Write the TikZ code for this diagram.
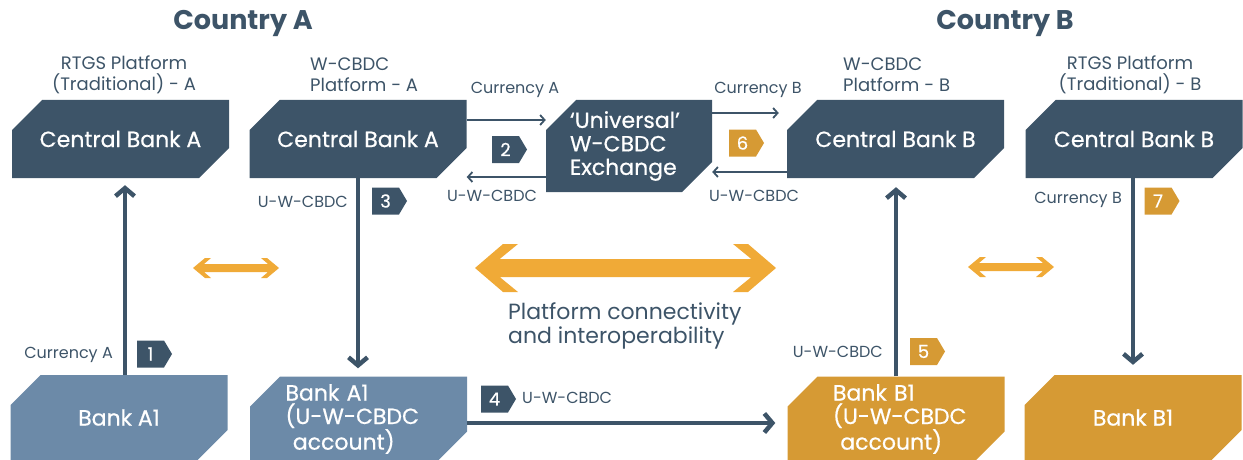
\documentclass[tikz,border=0pt]{standalone}
\usepackage{fontspec}
\setmainfont{Poppins}
\newfontfamily\medfont[FakeBold=0.6]{Poppins}
\usetikzlibrary{arrows.meta,calc}
\definecolor{dk}{RGB}{61,84,104}
\definecolor{lb}{RGB}{108,138,168}
\definecolor{ob}{RGB}{214,154,52}
\definecolor{oa}{RGB}{240,170,55}
\begin{document}
\begin{tikzpicture}[x=1pt,y=-1pt,
  cbox/.style={inner sep=0pt, minimum width=217pt, minimum height=78pt, text=white,
    font=\medfont\fontsize{22}{23.5}\selectfont, align=center,
    path picture={\fill[#1] ([xshift=30pt]path picture bounding box.north west) -- (path picture bounding box.north east) -- ([yshift=30pt]path picture bounding box.south east) -- ([xshift=-30pt]path picture bounding box.south east) -- (path picture bounding box.south west) -- ([yshift=-30pt]path picture bounding box.north west) -- cycle;}},
  badge/.style={inner sep=0pt, minimum width=35pt, minimum height=27pt, text=white,
    font=\medfont\fontsize{18}{18}\selectfont,
    path picture={\fill[#1] (path picture bounding box.north west) -- ([xshift=-8pt]path picture bounding box.north east) -- (path picture bounding box.east) -- ([xshift=-8pt]path picture bounding box.south east) -- (path picture bounding box.south west) -- cycle;}},
  lbl/.style={text=dk, font=\fontsize{16}{21}\selectfont, inner sep=0pt},
  plbl/.style={text=dk, font=\fontsize{18}{21}\selectfont, inner sep=0pt},
  title/.style={text=dk, font=\fontsize{27}{30}\selectfont\bfseries, inner sep=0pt},
  big/.style={draw=dk, line width=4.5pt, -{Straight Barb[length=8pt,width=19pt]}},
  thin/.style={draw=dk, line width=1.8pt, -{Straight Barb[length=4.5pt,width=10pt]}}
]
\useasboundingbox (0,0) rectangle (1243,460);

% titles
\node[title] (ta) at (243,23) {Country A};
\node[title] (tb) at (1005,23) {Country B};

% platform labels
\node[plbl, align=center] (pra) at (124,74.5) {RTGS Platform\\(Traditional) - A};
\node[plbl, align=left, anchor=west] (pwa) at (310,74.5) {W-CBDC\\Platform - A};
\node[plbl, align=left, anchor=west] (pwb) at (843,74.5) {W-CBDC\\Platform - B};
\node[plbl, align=center] (prb) at (1130,74.5) {RTGS Platform\\(Traditional) - B};

% boxes
\node[cbox=dk] (cbra) at (120.5,139) {Central Bank A};
\node[cbox=dk] (cbwa) at (358,139) {Central Bank A};
\node[cbox=dk, minimum width=166pt, minimum height=92pt, text width=118pt, align=left] (ex) at (629,146) {‘Universal’\\W-CBDC\\Exchange};
\node[cbox=dk] (cbwb) at (895.5,139) {Central Bank B};
\node[cbox=dk] (cbrb) at (1134,139) {Central Bank B};

\node[cbox=lb, minimum height=85pt] (ba1) at (119,417.5) {Bank A1};
\node[cbox=lb, minimum height=85pt, text width=150pt, align=left] (ba1u) at (358.5,419) {\hspace*{2pt}Bank A1\\\hspace*{2pt}(U-W-CBDC\\\hspace*{2pt}\ account)};
\node[cbox=ob, minimum height=85pt, text width=150pt, align=left] (bb1u) at (896,419) {\hspace*{12pt}Bank B1\\\hspace*{12pt}(U-W-CBDC\\\hspace*{12pt}\ account)};
\node[cbox=ob, minimum height=85pt] (bb1) at (1133,417.5) {Bank B1};

% vertical heavy arrows
\draw[big, shorten >=7pt] ([xshift=6pt]ba1.north) -- ([xshift=6pt]ba1.north |- cbra.south);
\draw[big, shorten >=8pt] (cbwa.south) -- (cbwa.south |- ba1u.north);
\draw[big, shorten >=9pt] (bb1u.north) -- (bb1u.north |- cbwb.south);
\draw[big, shorten >=10pt] ([xshift=-1pt]cbrb.south) -- ([xshift=-1pt]cbrb.south |- bb1.north);
% horizontal heavy arrow
\draw[big, shorten >=12pt] ([yshift=-4pt]ba1u.east) -- ([yshift=-4pt]ba1u.east -| bb1u.west);

% thin arrows
\draw[thin] ([yshift=19pt]cbwa.east) -- ([yshift=19pt]cbwa.east -| ex.west);
\draw[thin] ([yshift=-31pt]ex.west) -- ([yshift=-31pt]ex.west -| cbwa.east);
\draw[thin, shorten >=8pt] ([yshift=33pt]ex.east) -- ([yshift=33pt]ex.east -| cbwb.west);
\draw[thin] ([yshift=-33pt]cbwb.west) -- ([yshift=-33pt]cbwb.west -| ex.east);

% labels
\node[lbl] (lca) at (515,90) {Currency A};
\node[lbl] (lua) at (492,196) {U-W-CBDC};
\node[lbl] (lcb) at (758,90) {Currency B};
\node[lbl] (lub) at (754,196) {U-W-CBDC};
\node[lbl, anchor=east] (l3) at (348,202) {U-W-CBDC};
\node[lbl, anchor=east] (l1) at (113,355) {Currency A};
\node[lbl, anchor=west] (l4) at (522,398) {U-W-CBDC};
\node[lbl, anchor=east] (l5) at (883,352) {U-W-CBDC};
\node[lbl, anchor=east] (l7) at (1122,200) {Currency B};

% badges
\node[badge=dk] (b1) at (154.5,354) {\hspace*{-8pt}1};
\node[badge=dk] (b2) at (509.5,149.5) {\hspace*{-8pt}2};
\node[badge=dk] (b3) at (389.5,201) {\hspace*{-8pt}3};
\node[badge=dk] (b4) at (498.5,399) {\hspace*{-8pt}4};
\node[badge=ob] (b5) at (927.5,351.5) {\hspace*{-8pt}5};
\node[badge=ob] (b6) at (746.5,143) {\hspace*{-8pt}6};
\node[badge=ob] (b7) at (1162,201) {\hspace*{-8pt}7};

% orange double arrows
\fill[oa] (475,268) -- (503,244) -- (518,244) -- (499.7,259) -- (751.3,259) -- (733,244) -- (748,244) -- (776,268)
  -- (748,292) -- (733,292) -- (751.3,277) -- (499.7,277) -- (518,292) -- (503,292) -- cycle;
\fill[oa] (193,268) -- (205,258) -- (211,258) -- (204,264) -- (268,264) -- (261,258) -- (267,258) -- (279,268)
  -- (267,278) -- (261,278) -- (268,272) -- (204,272) -- (211,278) -- (205,278) -- cycle;
\fill[oa] (968,267) -- (980,257) -- (986,257) -- (979,263) -- (1043,263) -- (1036,257) -- (1042,257) -- (1054,267)
  -- (1042,277) -- (1036,277) -- (1043,271) -- (979,271) -- (986,277) -- (980,277) -- cycle;

% connectivity text
\node[text=dk, font=\fontsize{22}{22}\selectfont, align=left, anchor=west, inner sep=0pt] (pc) at (508,326) {Platform connectivity\\and interoperability};
\end{tikzpicture}
\end{document}
